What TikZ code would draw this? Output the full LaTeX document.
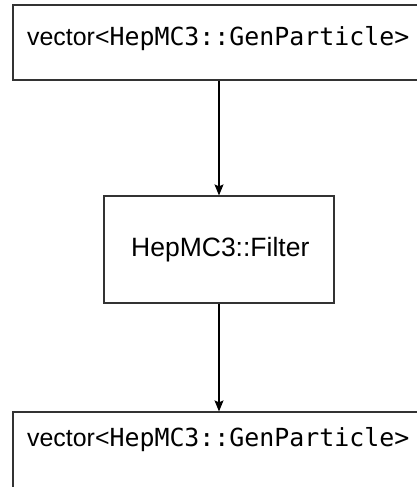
\documentclass[tikz,border=0pt]{standalone}
\usepackage{fontspec}
\setmainfont{Liberation Sans}
\newfontfamily\monofont{DejaVu Sans Mono}
\usetikzlibrary{arrows.meta}
\begin{document}
\begin{tikzpicture}[x=1pt,y=-1pt,
  boxstyle/.style={draw=black!80, line width=1.2pt, fill=white, inner sep=0pt},
  lbl/.style={anchor=base west, inner sep=0pt, font=\fontsize{24.9}{30}\selectfont},
  conn/.style={draw=black, line width=1.1pt, -{Stealth[length=11pt,width=9pt,inset=2pt]}}]
\clip (0,0) rectangle (417,487);
\fill[white] (0,0) rectangle (417,487);
\node[boxstyle, minimum width=412pt, minimum height=75pt] (top) at (219,42.5) {};
\node[boxstyle, minimum width=230pt, minimum height=107pt] (mid) at (219,249.5) {};
\node[boxstyle, minimum width=412pt, minimum height=83pt] (bot) at (219,453.5) {};
\node[lbl] (ttop) at (27,45.5) {vector<\monofont HepMC3::GenParticle>};
\node[lbl, font=\fontsize{26.5}{31}\selectfont] (tmid) at (131,256) {HepMC3::Filter};
\node[lbl] (tbot) at (27,446) {vector<\monofont HepMC3::GenParticle>};
\draw[conn] (top.south) -- (mid.north);
\draw[conn] (mid.south) -- (bot.north);
\end{tikzpicture}
\end{document}
